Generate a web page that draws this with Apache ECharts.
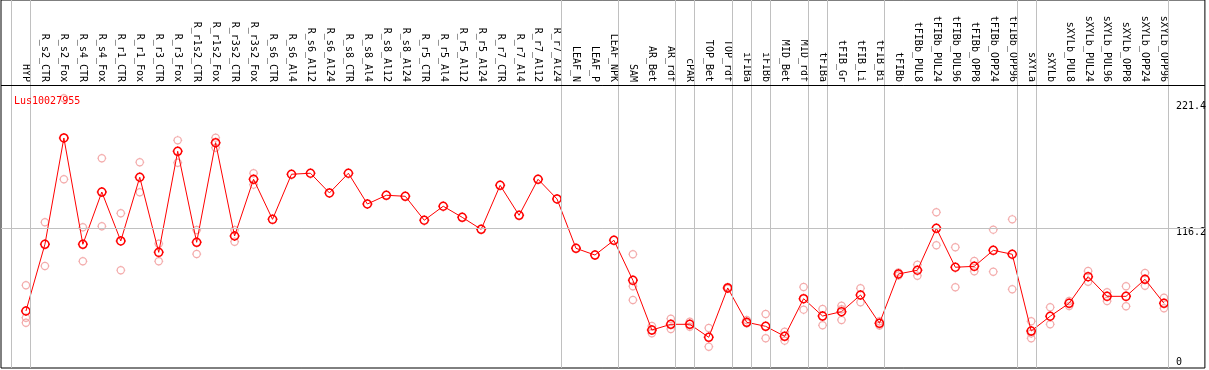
<!DOCTYPE html>
<html>
<head>
<meta charset="utf-8">
<script src="https://cdn.jsdelivr.net/npm/echarts@6/dist/echarts.min.js"></script>
<style>
  html, body { margin: 0; padding: 0; background: #fff; }
  #chart { width: 1209px; height: 370px; }
</style>
</head>
<body>
<div id="chart"></div>
<script>
const categories = [
  'HYP', 'R_s2_CTR', 'R_s2_Fox', 'R_s4_CTR', 'R_s4_Fox', 'R_r1_CTR', 'R_r1_Fox',
  'R_r3_CTR', 'R_r3_Fox', 'R_r1s2_CTR', 'R_r1s2_Fox', 'R_r3s2_CTR', 'R_r3s2_Fox',
  'R_s6_CTR', 'R_s6_Al4', 'R_s6_Al12', 'R_s6_Al24', 'R_s8_CTR', 'R_s8_Al4',
  'R_s8_Al12', 'R_s8_Al24', 'R_r5_CTR', 'R_r5_Al4', 'R_r5_Al12', 'R_r5_Al24',
  'R_r7_CTR', 'R_r7_Al4', 'R_r7_Al12', 'R_r7_Al24', 'LEAF_N', 'LEAF_P', 'LEAF_NPK',
  'SAM', 'AR_Bet', 'AR_rdf', 'cPAR', 'TOP_Bet', 'TOP_rdf', 'iFIBa', 'iFIBb',
  'MID_Bet', 'MID_rdf', 'tFIBa', 'tFIB_Gr', 'tFIB_Li', 'tFIB_Bi', 'tFIBb',
  'tFIBb_PUL8', 'tFIBb_PUL24', 'tFIBb_PUL96', 'tFIBb_OPP8', 'tFIBb_OPP24', 'tFIBb_OPP96',
  'sXYLa', 'sXYLb', 'sXYLb_PUL8', 'sXYLb_PUL24', 'sXYLb_PUL96', 'sXYLb_OPP8',
  'sXYLb_OPP24', 'sXYLb_OPP96'
]

// mean expression per sample
const means = [
  42.0, 101.6, 196.6, 101.6, 148.3, 104.6, 161.5, 94.4, 184.7, 103.4, 192.4, 109.0, 159.7,
  123.9, 164.2, 165.1, 147.5, 165.1, 137.6, 145.4, 144.5, 123.1, 135.6, 125.7, 115.0,
  154.3, 127.5, 159.7, 142.1, 98.0, 92.0, 105.2,
  69.4, 25.0, 30.1, 30.1, 18.5, 62.6, 31.9, 28.3, 19.4, 53.0, 37.5, 41.4, 56.3, 31.0,
  75.1, 78.4, 115.9, 81.1, 81.9, 96.2, 92.7,
  24.1, 37.3, 48.9, 72.7, 55.1, 55.1, 70.3, 48.9
]

// replicates (null = none)
const rep1 = [
  65.0, 121.3, 232.1, 116.8, 178.5, 129.3, 174.9, 102.1, 194.5, 114.4, 196.9, 114.4, 165.1,
  null, null, null, null, null, null, null, null, null, null, null, null,
  null, null, null, null, null, null, null,
  92.7, 28.6, 35.1, 32.4, 26.8, 63.5, 34.0, 39.3, 23.5, 63.4, 43.8, 46.7, 62.3, 32.8,
  76.5, 83.4, 130.2, 98.9, 86.7, 114.7, 123.9,
  32.8, 45.3, 50.9, 77.7, 58.7, 64.1, 76.0, 53.9
]
const rep2 = [
  36.0, 82.2, 159.7, 86.4, 117.7, 78.4, 148.1, 86.4, 174.5, 92.9, 187.9, 103.9, 154.9,
  null, null, null, null, null, null, null, null, null, null, null, null,
  null, null, null, null, null, null, null,
  64.1, 22.1, 25.9, 28.0, 10.1, 61.8, 31.0, 17.6, 15.5, 43.2, 29.2, 43.5, 49.8, 29.0,
  73.8, 73.5, 100.7, 63.2, 77.5, 77.1, 61.4,
  22.0, 30.1, 46.5, 68.2, 50.9, 46.2, 64.6, 44.4
]
const rep3 = [
  31.5, null, null, null, null, null, null, null, null, null, null, null, null,
  null, null, null, null, null, null, null, null, null, null, null, null,
  null, null, null, null, null, null, null,
  51.8, null, null, null, null, null, null, null, null, null, null, 34.0, null, null,
  null, null, null, null, null, null, null,
  17.6, null, null, null, null, null, null, null
]

// sample indices after which a group separator is drawn
const groupEnds = [-1, 0, 28, 31, 34, 35, 37, 38, 39, 41, 42, 45, 52, 53, 60]
const yTicks = [0, 116.2, 221.4]
const geneName = 'Lus10027955'

const MONO = 'DejaVu Sans Mono'
const GEAR = 'path://M1,5A4,4,0,0,1,9,5A4,4,0,0,1,1,5ZM5,0L5,1M5,9L5,10M0,5L1,5M9,5L10,5'

const pts = arr => arr.map((v, i) => [i, v]).filter(p => p[1] != null)

const repData = pts(rep1).concat(pts(rep2), pts(rep3))

const chart = echarts.init(document.getElementById('chart'), null, { renderer: 'canvas' })

chart.setOption({
  animation: false,
  title: {
    text: geneName,
    left: 9,
    top: 91,
    textStyle: { fontFamily: MONO, fontSize: 10, fontWeight: 'normal', color: '#ff0000' }
  },
  grid: {
    left: 1, right: 2, top: 0, bottom: 2,
    show: true, borderColor: '#000', borderWidth: 1, backgroundColor: '#fff'
  },
  xAxis: {
    type: 'value',
    position: 'top',
    offset: -83,
    min: -1.3158,
    max: 62.158,
    axisLine: { show: false, onZero: false },
    axisTick: { show: false },
    splitLine: { show: false },
    axisLabel: {
      customValues: categories.map((c, i) => i),
      formatter: v => categories[v],
      rotate: 90,
      margin: 1,
      fontFamily: MONO,
      fontSize: 10,
      color: '#000'
    }
  },
  yAxis: {
    type: 'value',
    position: 'right',
    min: -8.94,
    max: 319.9,
    axisLine: { show: false, onZero: false },
    axisTick: { show: false },
    splitLine: { show: false },
    axisLabel: {
      customValues: yTicks,
      inside: true,
      align: 'left',
      margin: 29,
      fontFamily: MONO,
      fontSize: 10,
      color: '#000',
      formatter: v => v === 221.4 ? '{up|' + v + '}' : '{dn|' + v + '}',
      rich: {
        up: { fontFamily: MONO, fontSize: 10, padding: [0, 0, 7, 0] },
        dn: { fontFamily: MONO, fontSize: 10, padding: [9, 0, 0, 0] }
      }
    }
  },
  series: [
    {
      type: 'line',
      data: [],
      z: 1,
      silent: true,
      markLine: {
        silent: true,
        symbol: 'none',
        label: { show: false },
        lineStyle: { color: '#c0c0c0', width: 1, type: 'solid' },
        data: groupEnds.map(i => ({ xAxis: i + 0.24 }))
          .concat([{ yAxis: yTicks[1] }])
          .concat([{ yAxis: 243.9, lineStyle: { color: '#000', width: 1, type: 'solid' } }])
      }
    },
    {
      name: 'replicates',
      type: 'scatter',
      data: repData,
      z: 2,
      symbol: GEAR,
      symbolSize: 9,
      itemStyle: { color: 'rgba(0,0,0,0)', borderColor: '#f09696', borderWidth: 1.2 }
    },
    {
      name: 'mean',
      type: 'line',
      data: pts(means),
      z: 3,
      symbol: GEAR,
      symbolSize: 10,
      lineStyle: { color: '#ff0000', width: 1 },
      itemStyle: { color: 'rgba(0,0,0,0)', borderColor: '#ff0000', borderWidth: 1.5 }
    }
  ]
})
</script>
</body>
</html>
